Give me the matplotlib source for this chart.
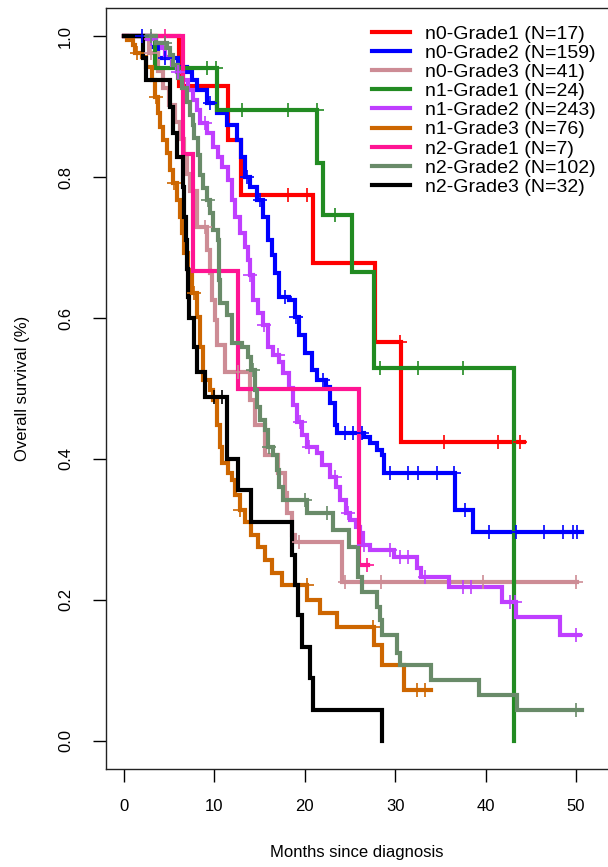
import numpy as np
import matplotlib
matplotlib.use("Agg")
import matplotlib.pyplot as plt
from matplotlib.lines import Line2D

plt.rcParams['font.family'] = ['Liberation Sans', 'DejaVu Sans']

# ---- Kaplan-Meier estimates by nodal stage and grade ----
labels = ["n0-Grade1 (N=17)", "n0-Grade2 (N=159)", "n0-Grade3 (N=41)",
          "n1-Grade1 (N=24)", "n1-Grade2 (N=243)", "n1-Grade3 (N=76)",
          "n2-Grade1 (N=7)", "n2-Grade2 (N=102)", "n2-Grade3 (N=32)"]
colors = ["#FF0000", "#0000FF", "#CD8C95", "#228B22", "#BF3EFF",
          "#CD6600", "#FF1493", "#698B69", "#000000"]

n0g1_time = [0, 6.1, 11.5, 13.0, 20.9, 27.8, 30.6]
n0g1_surv = [1.0, 0.930, 0.852, 0.774, 0.678, 0.566, 0.424]
n0g1_last = 44.2
n0g1_cens = [18.1, 20.3, 30.5, 35.4, 41.4, 43.8]

n0g2_time = [0, 2.9, 3.8, 6.0, 7.0, 7.5, 8.1, 9.2, 10.3, 11.4, 12.5, 13.0, 13.4,
             13.9, 14.7, 15.4, 15.9, 16.4, 16.7, 17.2, 18.3, 18.9, 19.4, 20.0,
             20.8, 21.3, 22.4, 22.8, 23.3, 23.6, 26.6, 27.2, 28.0, 28.5, 28.8,
             36.6, 38.6]
n0g2_surv = [1.0, 0.984, 0.969, 0.956, 0.949, 0.938, 0.923, 0.905, 0.891, 0.874,
             0.852, 0.828, 0.800, 0.786, 0.767, 0.743, 0.711, 0.689, 0.664, 0.630,
             0.626, 0.601, 0.576, 0.550, 0.526, 0.512, 0.502, 0.479, 0.448, 0.437,
             0.431, 0.423, 0.413, 0.406, 0.380, 0.328, 0.296]
n0g2_last = 50.6
n0g2_cens = [2.0, 4.5, 9.5, 13.6, 15.0, 17.8, 19.0, 22.0, 24.4, 25.3, 26.3, 29.4,
             31.4, 32.5, 34.6, 36.5, 37.7, 40.4, 43.4, 46.5, 48.5, 49.6, 50.1]

n0g3_time = [0, 2.8, 3.8, 4.3, 5.0, 5.6, 6.2, 6.7, 7.0, 7.3, 8.1, 9.2, 9.5, 9.7,
             10.1, 10.3, 11.2, 13.9, 14.5, 15.6, 17.0, 17.8, 18.0, 18.6, 18.9, 24.1]
n0g3_surv = [1.0, 0.976, 0.951, 0.927, 0.902, 0.878, 0.854, 0.829, 0.805, 0.780,
             0.729, 0.697, 0.664, 0.626, 0.597, 0.562, 0.523, 0.484, 0.448, 0.406,
             0.380, 0.352, 0.323, 0.292, 0.282, 0.225]
n0g3_last = 50.1
n0g3_cens = [3.0, 9.0, 12.6, 19.4, 24.4, 28.4, 39.7, 50.0]

n1g1_time = [0, 3.4, 10.3, 21.4, 22.0, 25.2, 27.7, 43.1]
n1g1_surv = [1.0, 0.955, 0.895, 0.820, 0.746, 0.665, 0.529, 0.0]
n1g1_last = 43.1
n1g1_cens = [9.2, 10.2, 13.1, 18.1, 21.3, 23.3, 28.3, 32.5, 37.5]

n1g2_time = [0, 2.5, 3.5, 4.2, 4.5, 5.3, 5.9, 6.5, 7.1, 7.6, 8.1, 8.4, 9.2, 9.8,
             10.4, 10.9, 11.5, 11.9, 12.3, 12.8, 13.4, 13.7, 13.9, 14.3, 14.8,
             15.4, 15.9, 16.5, 17.2, 17.6, 18.3, 18.7, 19.1, 19.7, 20.2, 21.3,
             21.9, 22.8, 23.5, 23.9, 24.6, 25.0, 25.7, 26.1, 26.4, 27.2, 29.9,
             32.4, 32.9, 36.0, 41.8, 43.4, 48.2]
n1g2_surv = [1.0, 0.996, 0.990, 0.983, 0.970, 0.959, 0.949, 0.938, 0.923, 0.909,
             0.895, 0.877, 0.862, 0.843, 0.828, 0.814, 0.796, 0.767, 0.743, 0.721,
             0.701, 0.682, 0.661, 0.626, 0.607, 0.590, 0.559, 0.548, 0.538, 0.522,
             0.501, 0.477, 0.452, 0.434, 0.417, 0.409, 0.391, 0.374, 0.360, 0.342,
             0.323, 0.313, 0.304, 0.295, 0.278, 0.271, 0.261, 0.245, 0.233, 0.218,
             0.197, 0.176, 0.150]
n1g2_last = 50.4
n1g2_cens = [3.0, 6.0, 9.0, 14.0, 15.5, 17.0, 19.5, 20.5, 23.3, 24.8, 26.6, 29.4,
             30.5, 31.4, 33.3, 37.5, 38.4, 42.7, 43.2, 50.0]

n1g3_time = [0, 0.4, 1.0, 1.2, 2.0, 2.5, 3.1, 3.4, 3.8, 4.0, 4.3, 4.8, 5.1, 5.4,
             5.9, 6.2, 6.4, 6.7, 7.1, 7.5, 8.1, 8.4, 8.7, 9.5, 9.8, 10.3, 10.6,
             10.9, 11.5, 12.0, 12.3, 12.8, 13.4, 14.1, 14.8, 15.6, 16.4, 17.5,
             20.3, 21.7, 23.6, 27.7, 28.5, 31.0]
n1g3_surv = [1.0, 0.995, 0.988, 0.976, 0.970, 0.956, 0.938, 0.913, 0.891, 0.871,
             0.852, 0.834, 0.810, 0.791, 0.767, 0.743, 0.721, 0.692, 0.668, 0.635,
             0.601, 0.559, 0.512, 0.498, 0.484, 0.448, 0.417, 0.394, 0.380, 0.370,
             0.349, 0.328, 0.311, 0.292, 0.275, 0.257, 0.238, 0.221, 0.200, 0.182,
             0.162, 0.136, 0.108, 0.072]
n1g3_last = 34.0
n1g3_cens = [1.5, 3.6, 5.5, 7.8, 12.8, 20.2, 27.5, 32.4, 33.3]

n2g1_time = [0, 6.5, 7.6, 12.6, 26.0]
n2g1_surv = [1.0, 0.833, 0.667, 0.500, 0.250]
n2g1_last = 27.0
n2g1_cens = [4.5, 26.9]

n2g2_time = [0, 3.5, 4.8, 5.1, 5.4, 6.0, 6.4, 7.0, 7.3, 7.6, 7.8, 8.2, 8.4, 8.7,
             9.2, 9.5, 9.8, 10.4, 10.5, 10.6, 11.4, 11.9, 12.0, 13.1, 13.7, 14.1,
             14.5, 14.7, 15.0, 15.6, 15.9, 16.5, 16.9, 17.2, 17.6, 20.3, 23.1,
             24.9, 25.9, 26.3, 28.0, 28.3, 28.5, 30.2, 30.5, 34.0, 39.3, 43.5]
n2g2_surv = [1.0, 0.990, 0.983, 0.973, 0.959, 0.940, 0.926, 0.906, 0.888, 0.874,
             0.855, 0.831, 0.803, 0.784, 0.767, 0.749, 0.725, 0.711, 0.654, 0.621,
             0.604, 0.587, 0.565, 0.559, 0.545, 0.526, 0.498, 0.474, 0.455, 0.441,
             0.417, 0.406, 0.384, 0.360, 0.342, 0.323, 0.299, 0.275, 0.233, 0.211,
             0.190, 0.172, 0.150, 0.125, 0.108, 0.087, 0.065, 0.044]
n2g2_last = 50.6
n2g2_cens = [3.0, 4.5, 9.3, 14.3, 16.0, 20.0, 22.5, 50.0]

n2g3_time = [0, 2.1, 2.5, 5.1, 5.4, 5.9, 6.5, 6.7, 6.9, 7.0, 7.1, 7.2, 7.8, 8.1,
             9.0, 11.4, 12.6, 14.1, 18.6, 18.9, 19.2, 19.7, 20.6, 20.9, 28.5]
n2g3_surv = [1.0, 0.969, 0.938, 0.900, 0.862, 0.828, 0.786, 0.743, 0.711, 0.670,
             0.630, 0.600, 0.559, 0.523, 0.488, 0.400, 0.356, 0.311, 0.264, 0.221,
             0.179, 0.133, 0.089, 0.044, 0.0]
n2g3_last = 28.5
n2g3_cens = [10.0, 10.9]

curves = [
    (n0g1_time, n0g1_surv, n0g1_last, n0g1_cens),
    (n0g2_time, n0g2_surv, n0g2_last, n0g2_cens),
    (n0g3_time, n0g3_surv, n0g3_last, n0g3_cens),
    (n1g1_time, n1g1_surv, n1g1_last, n1g1_cens),
    (n1g2_time, n1g2_surv, n1g2_last, n1g2_cens),
    (n1g3_time, n1g3_surv, n1g3_last, n1g3_cens),
    (n2g1_time, n2g1_surv, n2g1_last, n2g1_cens),
    (n2g2_time, n2g2_surv, n2g2_last, n2g2_cens),
    (n2g3_time, n2g3_surv, n2g3_last, n2g3_cens),
]

W, H = 608, 867
fig = plt.figure(figsize=(W / 100, H / 100), dpi=100)
fig.patch.set_facecolor("white")
ax = fig.add_axes([105.5 / W, (H - 769) / H, (608.7 - 105.5) / W, (769 - 8) / H])

for (t, s, last, cens), col in zip(curves, colors):
    t = np.asarray(t, float)
    s = np.asarray(s, float)
    xs = np.r_[t, last]
    ys = np.r_[s, s[-1]]
    ax.step(xs, ys, where="post", color=col, lw=3.0, solid_joinstyle="miter",
            zorder=2)
    c = np.asarray(cens, float)
    idx = np.searchsorted(t, c, side="right") - 1
    ax.plot(c, s[idx], linestyle="none", marker="+", markersize=10,
            markeredgewidth=1.2, color=col, zorder=3)

ax.set_xlim(-2.03, 53.6)
ax.set_ylim(-0.04, 1.04)
ax.set_xticks([0, 10, 20, 30, 40, 50])
ax.set_yticks([0.0, 0.2, 0.4, 0.6, 0.8, 1.0])
ax.set_yticklabels(["0.0", "0.2", "0.4", "0.6", "0.8", "1.0"], rotation=90,
                   va="center")
ax.tick_params(axis="both", direction="out", length=9.4, width=1.0,
               labelsize=12, colors="black")
ax.tick_params(axis="x", pad=12)
ax.tick_params(axis="y", pad=14)
for sp in ax.spines.values():
    sp.set_linewidth(1.0)
    sp.set_color("#222222")

fig.text(357 / W, 1 - 853 / H, "Months since diagnosis", ha="center",
         va="center", fontsize=12)
fig.text(23 / W, 1 - 388 / H, "Overall survival (%)", ha="center",
         va="center", rotation=90, fontsize=12)

handles = [Line2D([], [], color=c, lw=3.0) for c in colors]
fig.legend(handles, labels, loc="upper left",
           bbox_to_anchor=(372 / W, 1 - 25 / H), frameon=False, fontsize=14,
           handlelength=1.95, handletextpad=0.77, labelspacing=0.08,
           borderpad=0, borderaxespad=0)

fig.savefig("out.png", dpi=100, facecolor="white")
